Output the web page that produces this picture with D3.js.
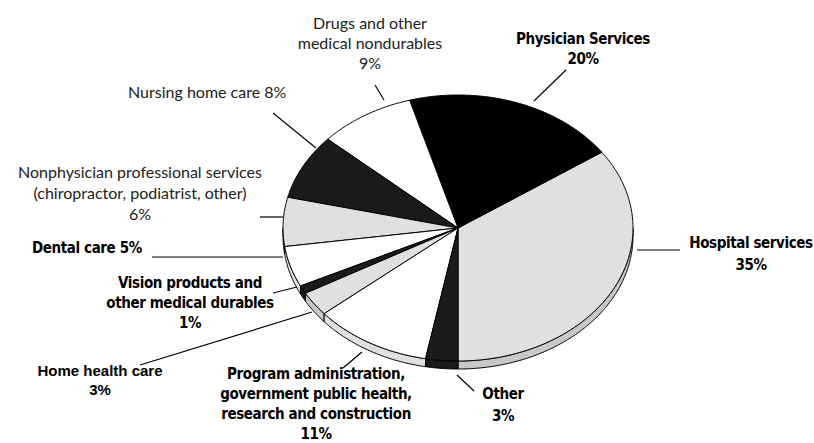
<!DOCTYPE html>
<html>
<head>
<meta charset="utf-8">
<script src="https://cdn.jsdelivr.net/npm/d3@7"></script>
<style>
  body { margin: 0; background: #fff; }
  .light { font-family: Lato, "Open Sans", sans-serif; font-size: 16px; fill: #222; }
  .heavy { font-family: "DejaVu Sans Condensed", "DejaVu Sans", sans-serif; font-stretch: condensed; font-weight: bold; font-size: 15px; letter-spacing: -0.4px; fill: #000; }
  .plain { font-family: "Liberation Sans", Arial, sans-serif; font-weight: bold; font-size: 15px; fill: #000; }
</style>
</head>
<body>
<div class="visArea"></div>
<script>
// Set up size
var width = 814;
var height = 443;

// Slices in drawing order (from 6 o'clock, going counterclockwise)
var categories = ["Hospital services", "Physician Services", "Drugs and other medical nondurables",
  "Nursing home care", "Nonphysician professional services", "Dental care",
  "Vision products and other medical durables", "Home health care",
  "Program administration, government public health, research and construction", "Other"];
var shares = [35, 20, 9, 8, 6, 5, 1, 3, 11, 3];
var topColors = ["#e0e0e0", "#000000", "#ffffff", "#1a1a1a", "#e0e0e0", "#ffffff", "#1a1a1a", "#e0e0e0", "#ffffff", "#1a1a1a"];
var sideColors = ["#c8c8c8", "#000000", "#e0e0e0", "#1a1a1a", "#c8c8c8", "#e0e0e0", "#1a1a1a", "#c8c8c8", "#e0e0e0", "#1a1a1a"];

// Label text, one entry per slice
var labelLines = [
  ["Hospital services", "35%"],
  ["Physician Services", "20%"],
  ["Drugs and other", "medical nondurables", "9%"],
  ["Nursing home care 8%"],
  ["Nonphysician professional services", "(chiropractor, podiatrist, other)", "6%"],
  ["Dental care 5%"],
  ["Vision products and", "other medical durables", "1%"],
  ["Home health care", "3%"],
  ["Program administration,", "government public health,", "research and construction", "11%"],
  ["Other", "3%"]
];
var labelStyle = ["heavy", "heavy", "light", "light", "light", "heavy", "heavy", "plain", "heavy", "heavy"];

// Label layout: anchor x, first baseline, line step, text-anchor, leader [x1,y1,x2,y2]
var labelLayout = [
  {x: 751, y: 248, dy: 22, anchor: "middle", line: [637, 250, 680, 250]},
  {x: 583, y: 44, dy: 20, anchor: "middle", line: [566, 70, 534, 101]},
  {x: 370, y: 29, dy: 20, anchor: "middle", line: [375, 85, 384, 100]},
  {x: 128, y: 98, dy: 20, anchor: "start", line: [273, 113, 316, 148]},
  {x: 140, y: 178, dy: 21, anchor: "middle", line: [260, 217, 283, 217]},
  {x: 32, y: 253, dy: 20, anchor: "start", line: [152, 257, 283, 257]},
  {x: 190, y: 288, dy: 20, anchor: "middle", line: [273, 293, 297, 287]},
  {x: 100, y: 376, dy: 19, anchor: "middle", line: [140, 365, 312, 312]},
  {x: 316, y: 379, dy: 20, anchor: "middle", line: [343, 368, 362, 352]},
  {x: 503, y: 399, dy: 22, anchor: "middle", line: [457, 375, 474, 391]}
];

// Pie geometry
var cx = 458, cy = 228, rx = 175, ry = 133, depth = 8;

var svg = d3.select('.visArea')
  .append('svg')
  .attr('width', width)
  .attr('height', height);

// d3 angle: 0 at 12 o'clock, clockwise. Start at bottom, run counterclockwise.
var pie = d3.pie()
  .sort(null)
  .value(d => d)
  .startAngle(Math.PI)
  .endAngle(-Math.PI);

var arcs = pie(shares);

function px(a) { return cx + rx * Math.sin(a); }
function py(a) { return cy - ry * Math.cos(a); }

function arcPoints(a0, a1, dz) {
  var n = Math.max(2, Math.ceil(Math.abs(a1 - a0) / 0.01));
  var pts = [];
  for (var i = 0; i <= n; i++) {
    var a = a0 + (a1 - a0) * i / n;
    pts.push([px(a), py(a) + dz]);
  }
  return pts;
}

function topPath(d) {
  var pts = arcPoints(d.startAngle, d.endAngle, 0);
  return "M" + cx + "," + cy + "L" + pts.map(p => p.join(",")).join("L") + "Z";
}

// front half of the ellipse is where cos(a) < 0
function frontPieces(d) {
  var lo = Math.min(d.startAngle, d.endAngle);
  var hi = Math.max(d.startAngle, d.endAngle);
  var out = [];
  for (var k = -2; k <= 1; k++) {
    var f0 = Math.PI / 2 + 2 * Math.PI * k;
    var f1 = 3 * Math.PI / 2 + 2 * Math.PI * k;
    var s = Math.max(lo, f0), e = Math.min(hi, f1);
    if (e > s) out.push([s, e]);
  }
  return out;
}

// Side walls first
arcs.forEach(function(d, i) {
  frontPieces(d).forEach(function(seg) {
    var upper = arcPoints(seg[0], seg[1], 0);
    var lower = arcPoints(seg[1], seg[0], depth);
    svg.append('path')
      .attr('d', "M" + upper.concat(lower).map(p => p.join(",")).join("L") + "Z")
      .style('fill', sideColors[i])
      .style('stroke', '#000')
      .style('stroke-width', 1)
      .style('stroke-linejoin', 'round');
  });
});

// Top faces
svg.selectAll('.slice')
  .data(arcs)
  .enter()
  .append('path')
  .attr('class', 'slice')
  .attr('d', topPath)
  .style('fill', (d, i) => topColors[i])
  .style('stroke', '#000')
  .style('stroke-width', 1)
  .style('stroke-linejoin', 'round');

// Leader lines
svg.selectAll('.leader')
  .data(labelLayout)
  .enter()
  .append('line')
  .attr('class', 'leader')
  .attr('x1', d => d.line[0])
  .attr('y1', d => d.line[1])
  .attr('x2', d => d.line[2])
  .attr('y2', d => d.line[3])
  .style('stroke', '#000')
  .style('stroke-width', 1.2);

// Labels
labelLines.forEach(function(lines, i) {
  var L = labelLayout[i];
  var t = svg.append('text')
    .attr('class', labelStyle[i])
    .attr('text-anchor', L.anchor);
  lines.forEach(function(s, j) {
    t.append('tspan')
      .attr('x', L.x)
      .attr('y', L.y + j * L.dy)
      .text(s);
  });
});
</script>
</body>
</html>
